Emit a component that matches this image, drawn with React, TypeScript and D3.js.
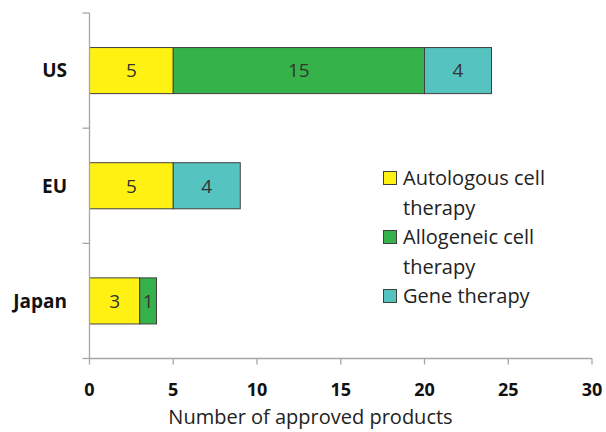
import React from "react";
import * as d3 from "d3";

const regions = ["US", "EU", "Japan"];
const seriesNames = ["Autologous cell therapy", "Allogeneic cell therapy", "Gene therapy"];
const legendLines = [["Autologous cell", "therapy"], ["Allogeneic cell", "therapy"], ["Gene therapy"]];
const autologous = [5, 5, 3];
const allogeneic = [15, 0, 1];
const gene = [4, 4, 0];
const colors = ["#FFF212", "#36B24A", "#55C4C0"];
const xTicks = [0, 5, 10, 15, 20, 25, 30];
const xTitle = "Number of approved products";

const W = 606, H = 432;
const left = 89.5, right = 592, top = 13, bottom = 358.5;

export default function App() {
  const x = d3.scaleLinear().domain([0, 30]).range([left, right]);
  const y = d3.scaleBand().domain(regions).range([top, bottom]).paddingInner(0.6).paddingOuter(0.3);
  const rows = regions.map((r, i) => ({ region: r, vals: [autologous[i], allogeneic[i], gene[i]] }));
  const stacked = d3.stack<any>().keys(["0", "1", "2"]).value((d, k) => d.vals[+k])(rows);
  const font = "'Open Sans', sans-serif";
  const axisColor = "#A6A6A6";
  const step = (bottom - top) / regions.length;
  const yTickPos = d3.range(regions.length + 1).map((i) => top + i * step);
  let legendY = 178;
  return (
    <svg width={W} height={H} style={{ position: "absolute", left: 0, top: 0 }} fontFamily={font}>
      <rect width={W} height={H} fill="#fff" />
      {stacked.map((s, si) =>
        s.map((d, i) => {
          const v = d[1] - d[0];
          if (v <= 0) return null;
          return (
            <g key={`${si}-${i}`}>
              <rect x={x(d[0])} y={y(regions[i])} width={x(d[1]) - x(d[0])} height={y.bandwidth()} fill={colors[si]} stroke="#404040" strokeWidth={1} />
              <text x={(x(d[0]) + x(d[1])) / 2} y={y(regions[i])! + y.bandwidth() / 2} dy="0.36em" textAnchor="middle" fontSize={19} fill="#333">{v}</text>
            </g>
          );
        })
      )}
      <line x1={left} x2={left} y1={top} y2={bottom} stroke={axisColor} strokeWidth={1.3} />
      {yTickPos.map((t, i) => (
        <line key={i} x1={left - 7} x2={left} y1={t} y2={t} stroke={axisColor} strokeWidth={1.3} />
      ))}
      <line x1={left} x2={right} y1={bottom} y2={bottom} stroke={axisColor} strokeWidth={1.3} />
      {xTicks.map((t) => (
        <g key={t}>
          <line x1={x(t)} x2={x(t)} y1={bottom} y2={bottom + 6} stroke={axisColor} strokeWidth={1.3} />
          <text x={x(t)} y={396} textAnchor="middle" fontSize={18} fontWeight="bold" fill="#111">{t}</text>
        </g>
      ))}
      {regions.map((r) => (
        <text key={r} x={67} y={y(r)! + y.bandwidth() / 2} dy="0.36em" textAnchor="end" fontSize={19} fontWeight="bold" fill="#111">{r}</text>
      ))}
      <text x={310.5} y={424} textAnchor="middle" fontSize={20} fill="#222">{xTitle}</text>
      {seriesNames.map((n, i) => {
        const lines = legendLines[i];
        const y0 = legendY;
        legendY += lines.length * 29.5;
        return (
          <g key={n}>
            <rect x={383.5} y={y0 - 6.5} width={13} height={13} fill={colors[i]} stroke="#404040" strokeWidth={1} />
            {lines.map((l, j) => (
              <text key={j} x={403} y={y0 + j * 29.5} dy="0.36em" fontSize={20} fill="#222">{l}</text>
            ))}
          </g>
        );
      })}
    </svg>
  );
}
